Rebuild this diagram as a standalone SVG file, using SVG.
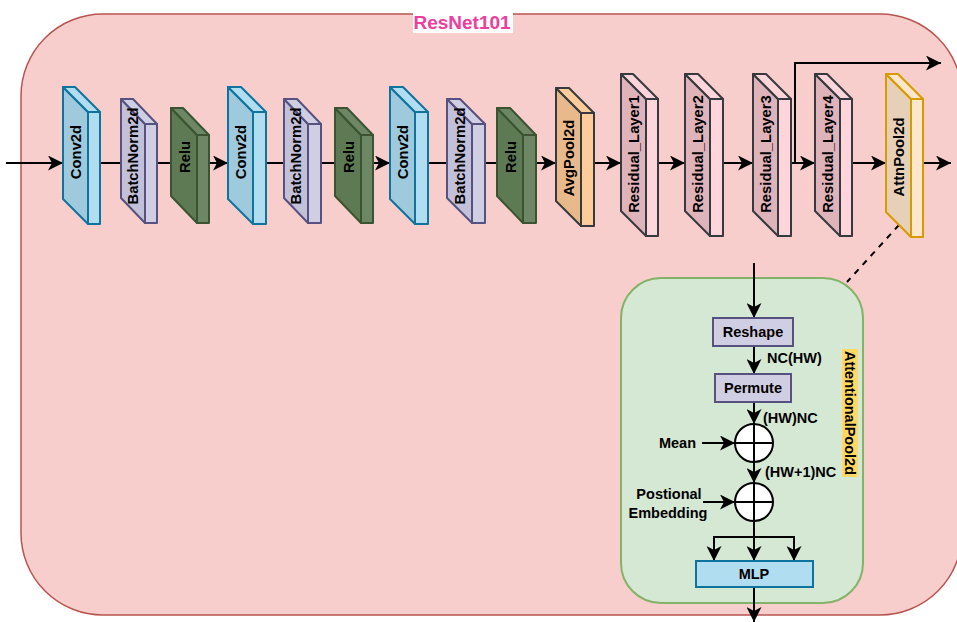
<svg xmlns="http://www.w3.org/2000/svg" width="957" height="622" viewBox="0 0 957 622">
  <defs>
    <marker id="arrow" markerUnits="userSpaceOnUse" markerWidth="16" markerHeight="15" refX="15" refY="7.5" orient="auto">
      <path d="M0,0 L15,7.5 L0,15 L4,7.5 Z" fill="#000"/>
    </marker>
    <style>
      text { font-family: "Liberation Sans", Arial, sans-serif; font-weight: bold; fill: #000; }
      .lbl { font-size: 14.5px; }
      .blk { font-size: 14.8px; text-anchor: middle; dominant-baseline: central; }
      .face { stroke-width: 2; stroke-linejoin: round; }
      .conv .front { fill: #9FC9DC; } .conv .lite { fill: #B1DDF0; } .conv path { stroke: #10739E; }
      .bn .front { fill: #C3C0D9; } .bn .lite { fill: #D0CEE2; } .bn path { stroke: #56517E; }
      .relu .front { fill: #5E7A54; } .relu .lite { fill: #6D8764; } .relu path { stroke: #3A5431; }
      .pool .front { fill: #E8B98B; } .pool .lite { fill: #FFCC99; } .pool path { stroke: #36393D; }
      .res .front { fill: #DFB3BA; } .res .lite { fill: #FDD5DA; } .res path { stroke: #36393D; }
      .attn .front { fill: #E6D0B8; } .attn .lite { fill: #FFE6CC; } .attn path { stroke: #D79B00; }
      .wire { fill: none; stroke: #000; stroke-width: 2; }
      .arr { marker-end: url(#arrow); }
      .box { stroke-width: 2; }
    </style>
  </defs>

  <!-- backbone container -->
  <g id="resnet101">
    <rect x="21" y="14" width="941" height="601" rx="82" ry="82" fill="#F8CECC" stroke="#B85450" stroke-width="1.5"/>
    <rect x="413" y="13" width="100" height="20" fill="#FFFFFF"/>
    <text x="462" y="29" text-anchor="middle" style="font-size:19px;fill:#F03C9A">ResNet101</text>
  </g>

  <!-- attention pooling container -->
  <g id="attnpool-detail">
    <rect x="621" y="278" width="242" height="325" rx="40" ry="40" fill="#D5E8D4" stroke="#82B366" stroke-width="2"/>
    <rect x="842" y="349" width="16" height="128" fill="#FFD966"/>
    <text class="blk" style="font-size:14.5px" transform="translate(850,413) rotate(90)">AttentionalPool2d</text>
  </g>

  <!-- connectors -->
  <g id="connectors">
    <line class="wire arr" x1="6" y1="163" x2="63" y2="163"/>
    <line class="wire" x1="100" y1="163" x2="121" y2="163"/>
    <line class="wire" x1="157" y1="163" x2="171" y2="163"/>
    <line class="wire arr" x1="209" y1="163" x2="228" y2="163"/>
    <line class="wire" x1="266" y1="163" x2="284" y2="163"/>
    <line class="wire" x1="321" y1="163" x2="335" y2="163"/>
    <line class="wire arr" x1="373" y1="163" x2="390" y2="163"/>
    <line class="wire" x1="428" y1="163" x2="447" y2="163"/>
    <line class="wire" x1="485" y1="163" x2="497" y2="163"/>
    <line class="wire arr" x1="536" y1="163" x2="556" y2="163"/>
    <line class="wire arr" x1="594" y1="163" x2="621" y2="163"/>
    <line class="wire arr" x1="658" y1="163" x2="685" y2="163"/>
    <line class="wire arr" x1="723" y1="163" x2="753" y2="163"/>
    <line class="wire arr" x1="791" y1="163" x2="815" y2="163"/>
    <polyline class="wire arr" points="795,163 795,63 941,63"/>
    <line class="wire arr" x1="852" y1="163" x2="886" y2="163"/>
    <line class="wire arr" x1="923" y1="163" x2="951" y2="163"/>
    <line class="wire" x1="899" y1="225" x2="847" y2="282" stroke-dasharray="6,6"/>

    <line class="wire arr" x1="754" y1="263" x2="754" y2="318"/>
    <line class="wire arr" x1="754" y1="346" x2="754" y2="374"/>
    <line class="wire arr" x1="754" y1="402" x2="754" y2="424"/>
    <line class="wire arr" x1="702" y1="443" x2="735" y2="443"/>
    <line class="wire arr" x1="754" y1="462" x2="754" y2="483"/>
    <line class="wire arr" x1="703" y1="502" x2="735" y2="502"/>
    <line class="wire" x1="754" y1="521" x2="754" y2="537"/>
    <line class="wire" x1="714" y1="537" x2="794" y2="537"/>
    <line class="wire arr" x1="714" y1="536" x2="714" y2="561"/>
    <line class="wire arr" x1="754" y1="537" x2="754" y2="561"/>
    <line class="wire arr" x1="794" y1="536" x2="794" y2="561"/>
    <line class="wire arr" x1="754" y1="587" x2="754" y2="622"/>
  </g>

  <!-- backbone layers -->
  <g id="conv2d-1" class="conv face" transform="translate(63,87)">
    <path class="front" d="M0,0 L25,25 L25,137 L0,112 Z"/>
    <path class="lite" d="M0,0 L12,0 L37,25 L25,25 Z"/>
    <path class="lite" d="M25,25 L37,25 L37,137 L25,137 Z"/>
    <text class="blk" transform="translate(12.5,65) rotate(-90)">Conv2d</text>
  </g>
  <g id="batchnorm2d-1" class="bn face" transform="translate(121,99)">
    <path class="front" d="M0,0 L24,25 L24,124 L0,99 Z"/>
    <path class="lite" d="M0,0 L12,0 L36,25 L24,25 Z"/>
    <path class="lite" d="M24,25 L36,25 L36,124 L24,124 Z"/>
    <text class="blk" transform="translate(12,57) rotate(-90)">BatchNorm2d</text>
  </g>
  <g id="relu-1" class="relu face" transform="translate(171,108)">
    <path class="front" d="M0,0 L26,27 L26,115 L0,88 Z"/>
    <path class="lite" d="M0,0 L12,0 L38,27 L26,27 Z"/>
    <path class="lite" d="M26,27 L38,27 L38,115 L26,115 Z"/>
    <text class="blk" transform="translate(14,49) rotate(-90)">Relu</text>
  </g>

  <g id="conv2d-2" class="conv face" transform="translate(228,87)">
    <path class="front" d="M0,0 L25,25 L25,137 L0,112 Z"/>
    <path class="lite" d="M0,0 L13,0 L38,25 L25,25 Z"/>
    <path class="lite" d="M25,25 L38,25 L38,137 L25,137 Z"/>
    <text class="blk" transform="translate(12.5,65) rotate(-90)">Conv2d</text>
  </g>
  <g id="batchnorm2d-2" class="bn face" transform="translate(284,99)">
    <path class="front" d="M0,0 L24,25 L24,124 L0,99 Z"/>
    <path class="lite" d="M0,0 L13,0 L37,25 L24,25 Z"/>
    <path class="lite" d="M24,25 L37,25 L37,124 L24,124 Z"/>
    <text class="blk" transform="translate(12,57) rotate(-90)">BatchNorm2d</text>
  </g>
  <g id="relu-2" class="relu face" transform="translate(335,108)">
    <path class="front" d="M0,0 L26,27 L26,115 L0,88 Z"/>
    <path class="lite" d="M0,0 L12,0 L38,27 L26,27 Z"/>
    <path class="lite" d="M26,27 L38,27 L38,115 L26,115 Z"/>
    <text class="blk" transform="translate(14,49) rotate(-90)">Relu</text>
  </g>

  <g id="conv2d-3" class="conv face" transform="translate(390,87)">
    <path class="front" d="M0,0 L25,25 L25,137 L0,112 Z"/>
    <path class="lite" d="M0,0 L13,0 L38,25 L25,25 Z"/>
    <path class="lite" d="M25,25 L38,25 L38,137 L25,137 Z"/>
    <text class="blk" transform="translate(12.5,65) rotate(-90)">Conv2d</text>
  </g>
  <g id="batchnorm2d-3" class="bn face" transform="translate(447,99)">
    <path class="front" d="M0,0 L25,25 L25,124 L0,99 Z"/>
    <path class="lite" d="M0,0 L13,0 L38,25 L25,25 Z"/>
    <path class="lite" d="M25,25 L38,25 L38,124 L25,124 Z"/>
    <text class="blk" transform="translate(12.5,57) rotate(-90)">BatchNorm2d</text>
  </g>
  <g id="relu-3" class="relu face" transform="translate(497,108)">
    <path class="front" d="M0,0 L26,27 L26,115 L0,88 Z"/>
    <path class="lite" d="M0,0 L13,0 L39,27 L26,27 Z"/>
    <path class="lite" d="M26,27 L39,27 L39,115 L26,115 Z"/>
    <text class="blk" transform="translate(14,49) rotate(-90)">Relu</text>
  </g>

  <g id="avgpool2d" class="pool face" transform="translate(556,88)">
    <path class="front" d="M0,0 L25,25 L25,138 L0,113 Z"/>
    <path class="lite" d="M0,0 L13,0 L38,25 L25,25 Z"/>
    <path class="lite" d="M25,25 L38,25 L38,138 L25,138 Z"/>
    <text class="blk" transform="translate(12.5,70) rotate(-90)">AvgPool2d</text>
  </g>

  <g id="residual-layer1" class="res face" transform="translate(621,74)">
    <path class="front" d="M0,0 L25,25 L25,162 L0,137 Z"/>
    <path class="lite" d="M0,0 L12,0 L37,25 L25,25 Z"/>
    <path class="lite" d="M25,25 L37,25 L37,162 L25,162 Z"/>
    <text class="blk" transform="translate(12.5,80) rotate(-90)">Residual_Layer1</text>
  </g>
  <g id="residual-layer2" class="res face" transform="translate(685,74)">
    <path class="front" d="M0,0 L25,25 L25,162 L0,137 Z"/>
    <path class="lite" d="M0,0 L13,0 L38,25 L25,25 Z"/>
    <path class="lite" d="M25,25 L38,25 L38,162 L25,162 Z"/>
    <text class="blk" transform="translate(12.5,80) rotate(-90)">Residual_Layer2</text>
  </g>
  <g id="residual-layer3" class="res face" transform="translate(753,74)">
    <path class="front" d="M0,0 L25,25 L25,162 L0,137 Z"/>
    <path class="lite" d="M0,0 L13,0 L38,25 L25,25 Z"/>
    <path class="lite" d="M25,25 L38,25 L38,162 L25,162 Z"/>
    <text class="blk" transform="translate(12.5,80) rotate(-90)">Residual_Layer3</text>
  </g>
  <g id="residual-layer4" class="res face" transform="translate(815,74)">
    <path class="front" d="M0,0 L25,25 L25,162 L0,137 Z"/>
    <path class="lite" d="M0,0 L12,0 L37,25 L25,25 Z"/>
    <path class="lite" d="M25,25 L37,25 L37,162 L25,162 Z"/>
    <text class="blk" transform="translate(12.5,80) rotate(-90)">Residual_Layer4</text>
  </g>

  <g id="attnpool2d" class="attn face" transform="translate(886,74)">
    <path class="front" d="M0,0 L25,25 L25,163 L0,138 Z"/>
    <path class="lite" d="M0,0 L12,0 L37,25 L25,25 Z"/>
    <path class="lite" d="M25,25 L37,25 L37,163 L25,163 Z"/>
    <text class="blk" transform="translate(12.5,83) rotate(-90)">AttnPool2d</text>
  </g>

  <!-- attention pooling steps -->
  <g id="reshape">
    <rect class="box" x="713" y="318" width="80" height="28" fill="#D0CEE2" stroke="#56517E"/>
    <text class="lbl" x="753" y="337" text-anchor="middle">Reshape</text>
  </g>
  <text class="lbl" x="767" y="363">NC(HW)</text>
  <g id="permute">
    <rect class="box" x="715" y="374" width="76" height="28" fill="#D0CEE2" stroke="#56517E"/>
    <text class="lbl" x="753" y="393" text-anchor="middle">Permute</text>
  </g>
  <text class="lbl" x="763" y="423">(HW)NC</text>

  <g id="add-mean">
    <circle cx="754" cy="443" r="19" fill="#FFFFFF" stroke="#000" stroke-width="2"/>
    <path d="M754,424 V462 M735,443 H773" stroke="#000" stroke-width="2"/>
  </g>
  <g id="mean">
    <text class="lbl" x="696" y="448" text-anchor="end">Mean</text>
  </g>
  <text class="lbl" x="765" y="477">(HW+1)NC</text>

  <g id="add-pos">
    <circle cx="754" cy="502" r="19" fill="#FFFFFF" stroke="#000" stroke-width="2"/>
    <path d="M754,483 V521 M735,502 H773" stroke="#000" stroke-width="2"/>
  </g>
  <g id="positional-embedding">
    <text class="lbl" x="669" y="499" text-anchor="middle">Postional</text>
    <text class="lbl" x="668" y="518" text-anchor="middle">Embedding</text>
  </g>

  <g id="mlp">
    <rect class="box" x="696" y="561" width="117" height="26" fill="#B1DDF0" stroke="#10739E"/>
    <text class="lbl" x="754" y="579" text-anchor="middle">MLP</text>
  </g>
</svg>
